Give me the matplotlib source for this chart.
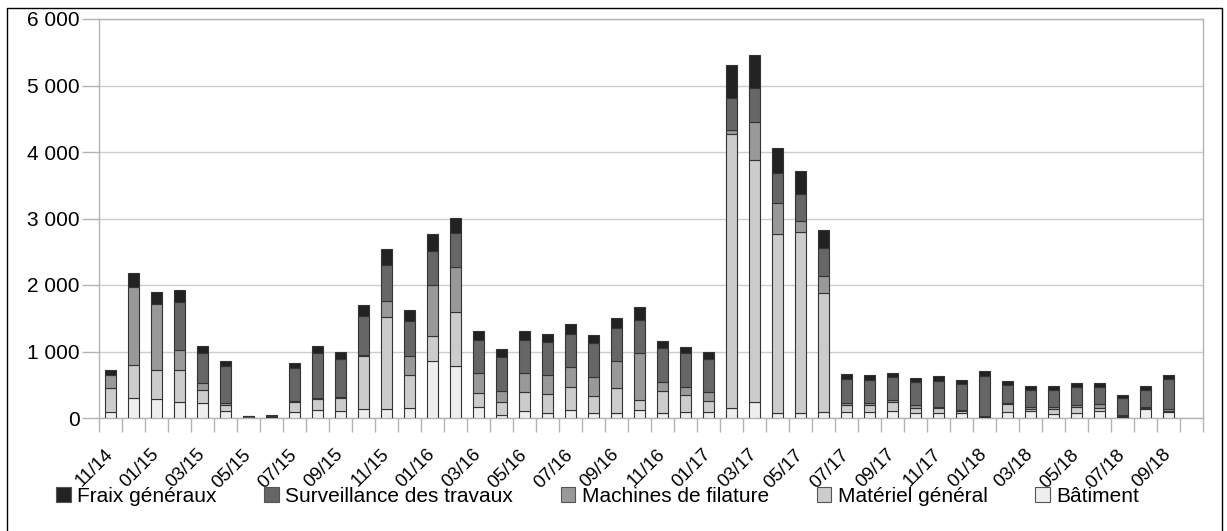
import matplotlib
matplotlib.use("Agg")
import matplotlib.pyplot as plt
import numpy as np
import pandas as pd
from matplotlib.lines import Line2D
from matplotlib.ticker import FuncFormatter

plt.rcParams['font.family'] = ['Liberation Sans', 'DejaVu Sans']

# monthly categories, 11/14 .. 10/18 (last month empty)
months = list(pd.period_range('2014-11', '2018-10', freq='M').strftime('%m/%y'))

batiment = [85, 305, 280, 245, 225, 100, 0, 0, 90, 115, 100, 130, 140, 155, 850, 780,
            165, 40, 100, 80, 120, 75, 75, 115, 75, 95, 85, 155, 240, 80, 80, 95,
            90, 95, 100, 80, 75, 75, 20, 90, 105, 65, 80, 110, 20, 130, 90, 0]
materiel = [360, 495, 435, 480, 200, 100, 0, 20, 150, 175, 200, 800, 1375, 495, 390, 820,
            215, 205, 290, 285, 345, 255, 380, 160, 335, 255, 175, 4120, 3635, 2685, 2710, 1790,
            105, 100, 135, 75, 80, 25, 10, 115, 30, 70, 80, 40, 10, 15, 15, 0]
machines = [200, 1165, 1000, 295, 95, 30, 0, 15, 20, 10, 10, 15, 240, 280, 760, 675,
            295, 165, 290, 275, 305, 290, 395, 705, 135, 115, 125, 50, 580, 465, 170, 250,
            35, 35, 35, 35, 10, 15, 5, 25, 25, 30, 30, 55, 10, 25, 25, 0]
surveillance = [0, 0, 0, 720, 455, 550, 25, 0, 485, 680, 580, 595, 540, 530, 505, 505,
                505, 500, 500, 500, 500, 510, 500, 500, 505, 505, 500, 490, 510, 455, 415, 420,
                355, 335, 340, 345, 390, 395, 590, 260, 265, 260, 270, 260, 260, 255, 450, 0]
frais = [70, 210, 175, 185, 105, 80, 10, 10, 80, 110, 100, 160, 240, 160, 260, 225,
         125, 125, 130, 130, 145, 120, 150, 195, 110, 105, 105, 495, 500, 370, 345, 265,
         75, 75, 70, 65, 75, 60, 80, 60, 55, 55, 60, 60, 40, 55, 70, 0]

series = [
    ('Bâtiment', batiment, '#eeeeee'),
    ('Matériel général', materiel, '#cccccc'),
    ('Machines de filature', machines, '#999999'),
    ('Surveillance des travaux', surveillance, '#666666'),
    ('Fraix généraux', frais, '#222222'),
]

fig = plt.figure(figsize=(12.27, 5.31), dpi=100)
ax = fig.add_axes([99 / 1227, 1 - 418 / 531, (1203 - 99) / 1227, (418 - 19) / 531])

x = np.arange(len(months))
bottom = np.zeros(len(months))
handles = []
for name, vals, col in series:
    vals = np.array(vals, dtype=float)
    # no outline for empty segments, so the empty month stays blank
    lw = [0.8 if v > 0 else 0 for v in vals]
    ax.bar(x, vals, 0.52, bottom=bottom, color=col, edgecolor='#333333', linewidth=lw, zorder=3)
    bottom += vals
    handles.append(plt.Rectangle((0, 0), 1, 1, facecolor=col, edgecolor='#555555', linewidth=0.8, label=name))

ax.set_xlim(-0.5, len(months) - 0.5)
ax.set_ylim(0, 6000)
ax.set_yticks(np.arange(0, 6001, 1000))
ax.yaxis.set_major_formatter(FuncFormatter(lambda v, p: f"{int(v):,}".replace(",", " ")))
ax.grid(axis='y', color='#cccccc', linewidth=1, zorder=0)

# category boundaries as ticks, labels every second month
ax.set_xticks(np.arange(-0.5, len(months), 1), minor=True)
ax.set_xticks(x[::2])
ax.set_xticklabels(months[::2], rotation=45, ha='right', va='center', rotation_mode='anchor')
ax.tick_params(axis='x', which='major', length=0, pad=24.5, labelsize=13.5)
ax.tick_params(axis='x', which='minor', length=10, color='#b3b3b3', width=1)
ax.tick_params(axis='y', length=12, color='#b3b3b3', width=1, labelsize=15, pad=2)

for s in ax.spines.values():
    s.set_color('#b3b3b3')
    s.set_linewidth(1)

fig.legend(handles=handles[::-1], loc='center', bbox_to_anchor=(0.487, 1 - 496 / 531), ncol=5,
           frameon=False, fontsize=15, handlelength=0.7, handleheight=0.7, handletextpad=0.3,
           columnspacing=2.3)

# outer frame of the figure
fig.add_artist(Line2D([7 / 1227, 7 / 1227, 1222 / 1227, 1222 / 1227],
                      [0, 1 - 8 / 531, 1 - 8 / 531, 0], color='black', linewidth=1))

fig.savefig('out.png', dpi=100)
